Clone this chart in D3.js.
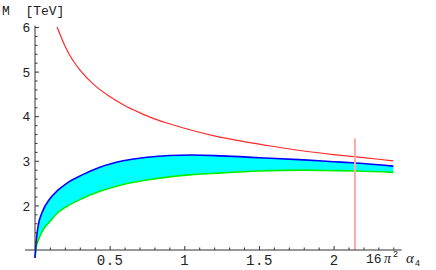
<!DOCTYPE html>
<html>
<head>
<meta charset="utf-8">
<script src="https://cdn.jsdelivr.net/npm/d3@7"></script>
<style>
  html, body { margin: 0; padding: 0; background: #fff; }
  svg { display: block; }
</style>
</head>
<body>
<svg id="chart" width="436" height="270"></svg>
<script>
// ---- data ----
const redX   = [0.148, 0.2, 0.25, 0.3, 0.4, 0.5, 0.6, 0.7, 0.8, 0.9, 1.0, 1.2, 1.4, 1.6, 1.8, 2.0, 2.2, 2.4];
const redM   = [6.0, 5.58, 5.27, 5.04, 4.69, 4.44, 4.24, 4.08, 3.94, 3.83, 3.73, 3.56, 3.43, 3.32, 3.22, 3.14, 3.07, 3.0];

const bandX  = [0, 0.007, 0.02, 0.05, 0.1, 0.15, 0.21, 0.32, 0.43, 0.59, 0.75, 0.9, 1.05, 1.25, 1.5, 1.8, 2.0, 2.15, 2.4];
const blueM  = [0.82, 1.16, 1.52, 1.86, 2.15, 2.33, 2.49, 2.69, 2.85, 3.0, 3.08, 3.12, 3.13, 3.11, 3.07, 3.02, 2.98, 2.95, 2.88];
const greenM = [0.82, 1.04, 1.2, 1.43, 1.64, 1.83, 1.97, 2.16, 2.31, 2.47, 2.57, 2.64, 2.69, 2.73, 2.77, 2.79, 2.78, 2.77, 2.74];

const cutoffX = [2.143];
const cutoffM = [1, 3.5];

const xMajor = [0.5, 1, 1.5, 2];
const xMinor = [0.1,0.2,0.3,0.4,0.6,0.7,0.8,0.9,1.1,1.2,1.3,1.4,1.6,1.7,1.8,1.9,2.1,2.2,2.3,2.4];
const yMajor = [2, 3, 4, 5, 6];
const yMinor = [1.2,1.4,1.6,1.8,2.2,2.4,2.6,2.8,3.2,3.4,3.6,3.8,4.2,4.4,4.6,4.8,5.2,5.4,5.6,5.8];
const xAxisExtent = [-0.067, 2.456];
const yAxisExtent = [1, 6.03];

// ---- scales ----
const x = d3.scaleLinear().domain([0, 2.4]).range([35, 35 + 2.4 * 149.3]);
const y = d3.scaleLinear().domain([1, 6]).range([250, 27]);

const svg = d3.select("#chart");
const axisColor = "#333";

// band fill
const area = d3.area()
  .x((d, i) => x(bandX[i]))
  .y0((d, i) => y(greenM[i]))
  .y1((d, i) => y(blueM[i]))
  .curve(d3.curveMonotoneX);
svg.append("path").datum(bandX).attr("d", area).attr("fill", "#00ffff");

const lineOf = (xs) => d3.line().x((d, i) => x(xs[i])).y(d => y(d)).curve(d3.curveMonotoneX);

svg.append("path").datum(greenM).attr("d", lineOf(bandX))
  .attr("fill", "none").attr("stroke", "#00ee00").attr("stroke-width", 1.6);
svg.append("path").datum(blueM).attr("d", lineOf(bandX))
  .attr("fill", "none").attr("stroke", "#0000ff").attr("stroke-width", 1.6);
svg.append("path").datum(redM).attr("d", lineOf(redX))
  .attr("fill", "none").attr("stroke", "#ff2a2a").attr("stroke-width", 1.2);

// cutoff vertical line
svg.selectAll(".cut").data(cutoffX).enter().append("line")
  .attr("x1", d => x(d)).attr("x2", d => x(d))
  .attr("y1", y(cutoffM[1])).attr("y2", y(cutoffM[0]))
  .attr("stroke", "#ffaaaa").attr("stroke-width", 2);

// ---- axes ----
svg.append("line")
  .attr("x1", x(xAxisExtent[0])).attr("x2", x(xAxisExtent[1]))
  .attr("y1", y(1)).attr("y2", y(1))
  .attr("stroke", axisColor).attr("stroke-width", 1);
svg.append("line")
  .attr("x1", x(0)).attr("x2", x(0))
  .attr("y1", y(yAxisExtent[0])).attr("y2", y(yAxisExtent[1]))
  .attr("stroke", axisColor).attr("stroke-width", 1);

const gx = svg.append("g").attr("transform", `translate(0,${y(1)})`)
  .call(d3.axisBottom(x).tickValues(xMajor).tickSizeInner(-4).tickSizeOuter(0).tickPadding(5)
        .tickFormat(d3.format("")));
const gxm = svg.append("g").attr("transform", `translate(0,${y(1)})`)
  .call(d3.axisBottom(x).tickValues(xMinor).tickSizeInner(-2.5).tickSizeOuter(0).tickFormat(""));
const gy = svg.append("g").attr("transform", `translate(${x(0)},0)`)
  .call(d3.axisLeft(y).tickValues(yMajor).tickSizeInner(-4).tickSizeOuter(0).tickPadding(5)
        .tickFormat(d3.format("")));
const gym = svg.append("g").attr("transform", `translate(${x(0)},0)`)
  .call(d3.axisLeft(y).tickValues(yMinor).tickSizeInner(-2.5).tickSizeOuter(0).tickFormat(""));

[gx, gxm, gy, gym].forEach(g => {
  g.select(".domain").remove();
  g.selectAll(".tick line").attr("stroke", axisColor);
});
gx.selectAll("text").attr("fill", "#222")
  .style("font-family", "'Liberation Mono', 'DejaVu Sans Mono', monospace")
  .style("font-size", "14px").style("letter-spacing", "0.5px");
gy.selectAll("text").attr("fill", "#222")
  .style("font-family", "'Liberation Sans', Arial, sans-serif")
  .style("font-size", "13px").attr("dy", "0.36em");

// y label
svg.append("text").attr("x", 2).attr("y", 15)
  .attr("fill", "#222")
  .style("font-family", "'Liberation Mono', monospace").style("font-size", "13px")
  .style("white-space", "pre")
  .text("M  [TeV]");

// x label: 16 π² α4
const lab = svg.append("g").attr("fill", "#222");
lab.append("text").attr("x", 366).attr("y", 263)
  .style("font-family", "'Liberation Mono', monospace").style("font-size", "13px")
  .text("16");
lab.append("text").attr("x", 384).attr("y", 263)
  .style("font-family", "'Liberation Serif', serif").style("font-style", "italic")
  .style("font-size", "14px").text("π");
lab.append("text").attr("x", 393).attr("y", 257)
  .style("font-family", "'Liberation Sans', sans-serif").style("font-size", "9px").text("2");
lab.append("text").attr("x", 406).attr("y", 263)
  .style("font-family", "'Liberation Serif', serif").style("font-style", "italic")
  .style("font-size", "15px").text("α");
lab.append("text").attr("x", 415).attr("y", 266)
  .style("font-family", "'Liberation Sans', sans-serif").style("font-size", "9px").text("4");
</script>
</body>
</html>
